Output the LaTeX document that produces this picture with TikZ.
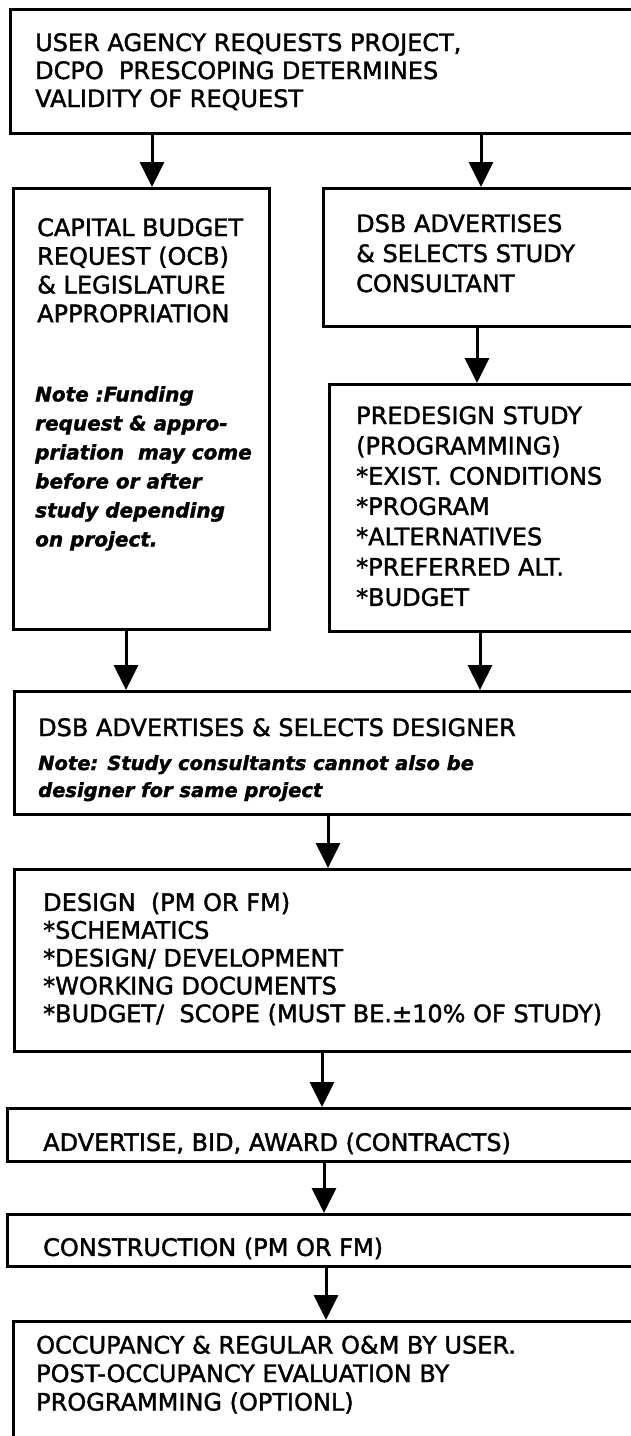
\documentclass[tikz,border=0pt]{standalone}
\usepackage{fontspec}
\setmainfont[FakeBold=1.6]{DejaVu Sans}
\usepackage{tikz}
\usetikzlibrary{arrows.meta,positioning,calc}
\tikzstyle{box} = [draw, line width=3pt, rectangle, anchor=north west, inner sep=0pt]
\tikzstyle{caps} = [anchor=north west, inner sep=0pt, align=left, font=\fontsize{24}{28}\selectfont]
\tikzstyle{note} = [anchor=north west, inner sep=0pt, align=left, font=\fontsize{20}{29}\selectfont\bfseries\itshape]
\tikzstyle{line} = [draw, line width=3pt, -{Triangle[width=24pt,length=25pt]}]

\begin{document}
\begin{tikzpicture}[x=1pt,y=-1pt]
		\useasboundingbox (0,0) rectangle (631,1436);
		\clip (0,0) rectangle (631,1436);
		%boxes (right side runs off the page)
		\node[box, minimum width=640, minimum height=124] (request)      at (9,8)     {}; % top box
		\node[box, minimum width=256, minimum height=441] (budget)       at (12,187)  {}; % left column
		\node[box, minimum width=330, minimum height=138] (consultant)   at (322,187) {}; % right column
		\node[box, minimum width=324, minimum height=247] (predesign)    at (328,383) {};
		\node[box, minimum width=640, minimum height=123] (designer)     at (13,690)  {};
		\node[box, minimum width=640, minimum height=182] (design)       at (13,868)  {};
		\node[box, minimum width=640, minimum height=53]  (bidding)      at (6,1107)  {};
		\node[box, minimum width=640, minimum height=52]  (construction) at (6,1213)  {};
		\node[box, minimum width=640, minimum height=200] (occupancy)    at (12,1320) {};
		
		%texts
		\node[caps] (request-t) at (35,33) {USER AGENCY REQUESTS PROJECT,\\DCPO\ \ PRESCOPING DETERMINES\\VALIDITY OF REQUEST};
		\node[caps, font=\fontsize{24}{28.7}\selectfont] (budget-t) at (37,218) {CAPITAL BUDGET\\REQUEST (OCB)\\\& LEGISLATURE\\APPROPRIATION};
		\node[note] (budget-n) at (35,386) {Note :Funding\\request \& appro-\\priation\ \ may come\\before or after\\study depending\\on project.};
		\node[caps, font=\fontsize{24}{30}\selectfont] (consultant-t) at (356,214) {DSB ADVERTISES\\\& SELECTS STUDY\\CONSULTANT};
		\node[caps, font=\fontsize{24}{30.3}\selectfont] (predesign-t) at (356,406) {PREDESIGN STUDY\\(PROGRAMMING)\\*EXIST. CONDITIONS\\*PROGRAM\\*ALTERNATIVES\\*PREFERRED ALT.\\*BUDGET};
		\node[caps] (designer-t) at (38,718) {DSB ADVERTISES \& SELECTS DESIGNER};
		\node[note, font=\fontsize{19.5}{27}\selectfont\bfseries\itshape] (designer-n) at (38,755) {Note: Study consultants cannot also be\\designer for same project};
		\node[caps, font=\fontsize{24}{27.8}\selectfont] (design-t) at (43,892.5) {DESIGN\ \ (PM OR FM)\\*SCHEMATICS\\*DESIGN/ DEVELOPMENT\\*WORKING DOCUMENTS\\*BUDGET/\ \ SCOPE (MUST BE.±10\% OF STUDY)};
		\node[caps] (bidding-t) at (43,1132.5) {ADVERTISE, BID, AWARD (CONTRACTS)};
		\node[caps] (construction-t) at (43,1237.5) {CONSTRUCTION (PM OR FM)};
		\node[caps, font=\fontsize{24}{28.5}\selectfont] (occupancy-t) at (36,1335.5) {OCCUPANCY \& REGULAR O\&M BY USER.\\POST-OCCUPANCY EVALUATION BY\\PROGRAMMING (OPTIONL)};
		
		%arrow columns
		\coordinate (c1) at (152,0);
		\coordinate (c2) at (481,0);
		\coordinate (c3) at (477,0);
		\coordinate (c4) at (126,0);
		\coordinate (c5) at (480,0);
		\coordinate (c6) at (328,0);
		\coordinate (c7) at (322,0);
		\coordinate (c8) at (324,0);
		\coordinate (c9) at (326,0);
		
		\path[line] (request.south -| c1)    -- (budget.north -| c1);
		\path[line] (request.south -| c2)    -- (consultant.north -| c2);
		\path[line] (consultant.south -| c3) -- (predesign.north -| c3);
		\path[line] (budget.south -| c4)     -- (designer.north -| c4);
		\path[line] (predesign.south -| c5)  -- (designer.north -| c5);
		\path[line] (designer.south -| c6)   -- (design.north -| c6);
		\path[line] (design.south -| c7)     -- (bidding.north -| c7);
		\path[line] (bidding.south -| c8)    -- (construction.north -| c8);
		\path[line] (construction.south -| c9) -- (occupancy.north -| c9);
		
\end{tikzpicture}
\end{document}
